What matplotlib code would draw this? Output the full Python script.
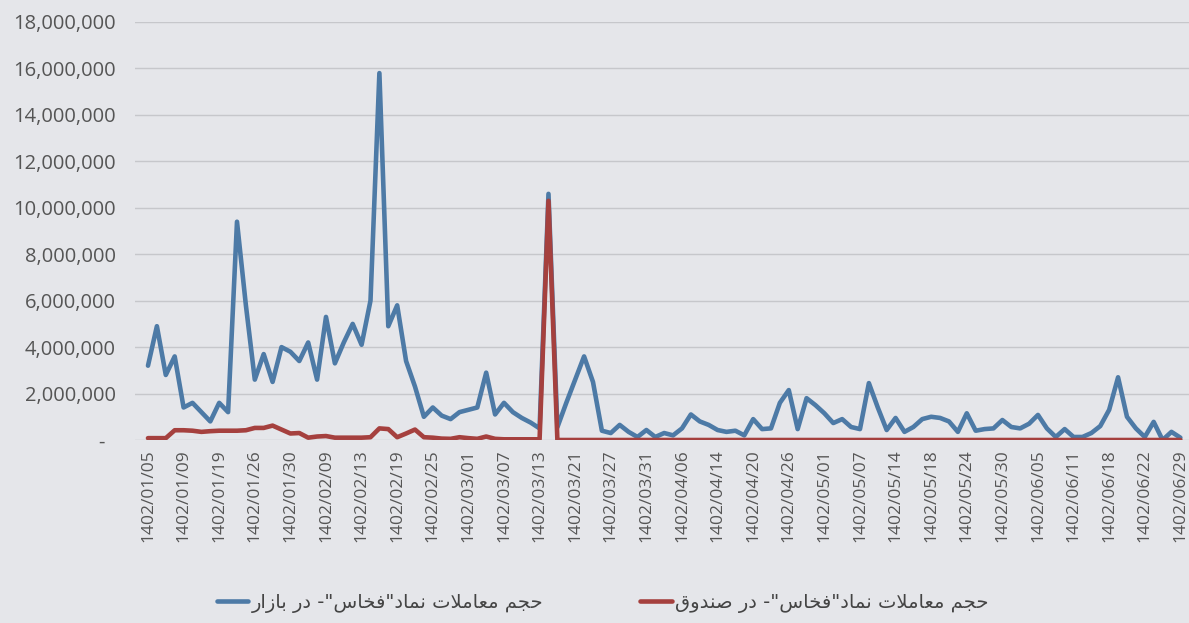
import numpy as np
import matplotlib
matplotlib.use("Agg")
import matplotlib.pyplot as plt
from matplotlib.ticker import FuncFormatter, MultipleLocator

# ---------------- data ----------------
tick_labels = [
    "1402/01/05", "1402/01/09", "1402/01/19", "1402/01/26", "1402/01/30",
    "1402/02/09", "1402/02/13", "1402/02/19", "1402/02/25", "1402/03/01",
    "1402/03/07", "1402/03/13", "1402/03/21", "1402/03/27", "1402/03/31",
    "1402/04/06", "1402/04/14", "1402/04/20", "1402/04/26", "1402/05/01",
    "1402/05/07", "1402/05/14", "1402/05/18", "1402/05/24", "1402/05/30",
    "1402/06/05", "1402/06/11", "1402/06/18", "1402/06/22", "1402/06/29",
]
label_step = 4  # one date label every 4 trading days

# volume in the market (millions of shares)
market_m = [
    3.2, 4.9, 2.8, 3.6, 1.4, 1.6, 1.2, 0.8, 1.6, 1.2,
    9.4, 5.8, 2.6, 3.7, 2.5, 4.0, 3.8, 3.4, 4.2, 2.6,
    5.3, 3.3, 4.2, 5.0, 4.1, 6.0, 15.8, 4.9, 5.8, 3.4,
    2.3, 1.0, 1.4, 1.05, 0.9, 1.2, 1.3, 1.4, 2.9, 1.1,
    1.6, 1.2, 0.95, 0.75, 0.5, 10.6, 0.55, 1.6, 2.6, 3.6,
    2.5, 0.4, 0.3, 0.65, 0.35, 0.13, 0.43, 0.13, 0.3, 0.2,
    0.5, 1.1, 0.8, 0.65, 0.43, 0.35, 0.4, 0.2, 0.9, 0.47,
    0.5, 1.6, 2.15, 0.47, 1.8, 1.5, 1.15, 0.73, 0.9, 0.56,
    0.47, 2.45, 1.4, 0.43, 0.95, 0.35, 0.56, 0.9, 1.0, 0.95,
    0.8, 0.35, 1.15, 0.4, 0.47, 0.5, 0.86, 0.56, 0.5, 0.7,
    1.08, 0.5, 0.13, 0.47, 0.13, 0.13, 0.3, 0.6, 1.3, 2.7,
    1.0, 0.5, 0.13, 0.78, 0.0, 0.35, 0.1,
]

# volume in the fund (millions of shares)
fund_m = [
    0.08, 0.08, 0.08, 0.42, 0.42, 0.4, 0.35, 0.38, 0.4, 0.4,
    0.4, 0.42, 0.52, 0.52, 0.62, 0.45, 0.28, 0.3, 0.1, 0.15,
    0.17, 0.1, 0.1, 0.1, 0.1, 0.12, 0.5, 0.47, 0.12, 0.28,
    0.45, 0.12, 0.1, 0.06, 0.05, 0.12, 0.08, 0.05, 0.15, 0.05,
    0.03, 0.03, 0.03, 0.03, 0.03, 10.3, 0.0, 0.0, 0.0, 0.0,
    0.0, 0.0, 0.0, 0.0, 0.0, 0.0, 0.0, 0.0, 0.0, 0.0,
    0.0, 0.0, 0.0, 0.0, 0.0, 0.0, 0.0, 0.0, 0.0, 0.0,
    0.0, 0.0, 0.0, 0.0, 0.0, 0.0, 0.0, 0.0, 0.0, 0.0,
    0.0, 0.0, 0.0, 0.0, 0.0, 0.0, 0.0, 0.0, 0.0, 0.0,
    0.0, 0.0, 0.0, 0.0, 0.0, 0.0, 0.0, 0.0, 0.0, 0.0,
    0.0, 0.0, 0.0, 0.0, 0.0, 0.0, 0.0, 0.0, 0.0, 0.0,
    0.0, 0.0, 0.0, 0.0, 0.0, 0.0, 0.0,
]

series_names = [
    'حجم معاملات نماد"فخاس"- در بازار',
    'حجم معاملات نماد"فخاس"- در صندوق',
]


# ------------- minimal Arabic/Persian shaping (matplotlib has no bidi) -------------
FORMS = {  # isolated, final, initial, medial
    'ا': (0xFE8D, 0xFE8E, None, None),
    'ب': (0xFE8F, 0xFE90, 0xFE91, 0xFE92),
    'ت': (0xFE95, 0xFE96, 0xFE97, 0xFE98),
    'ج': (0xFE9D, 0xFE9E, 0xFE9F, 0xFEA0),
    'ح': (0xFEA1, 0xFEA2, 0xFEA3, 0xFEA4),
    'خ': (0xFEA5, 0xFEA6, 0xFEA7, 0xFEA8),
    'د': (0xFEA9, 0xFEAA, None, None),
    'ر': (0xFEAD, 0xFEAE, None, None),
    'ز': (0xFEAF, 0xFEB0, None, None),
    'س': (0xFEB1, 0xFEB2, 0xFEB3, 0xFEB4),
    'ص': (0xFEB9, 0xFEBA, 0xFEBB, 0xFEBC),
    'ع': (0xFEC9, 0xFECA, 0xFECB, 0xFECC),
    'ف': (0xFED1, 0xFED2, 0xFED3, 0xFED4),
    'ق': (0xFED5, 0xFED6, 0xFED7, 0xFED8),
    'ل': (0xFEDD, 0xFEDE, 0xFEDF, 0xFEE0),
    'م': (0xFEE1, 0xFEE2, 0xFEE3, 0xFEE4),
    'ن': (0xFEE5, 0xFEE6, 0xFEE7, 0xFEE8),
    'و': (0xFEED, 0xFEEE, None, None),
}


def shape_rtl(text):
    out = []
    n = len(text)
    i = 0
    while i < n:
        c = text[i]
        if c not in FORMS:
            out.append(c)
            i += 1
            continue
        prev = text[i - 1] if i > 0 else ''
        prev_joins = prev in FORMS and FORMS[prev][2] is not None
        if c == 'ل' and i + 1 < n and text[i + 1] == 'ا':
            out.append(chr(0xFEFC if prev_joins else 0xFEFB))
            i += 2
            continue
        nxt = text[i + 1] if i + 1 < n else ''
        next_joins = nxt in FORMS and FORMS[c][2] is not None
        iso, fin, ini, med = FORMS[c]
        if prev_joins and next_joins:
            out.append(chr(med))
        elif prev_joins:
            out.append(chr(fin))
        elif next_joins:
            out.append(chr(ini))
        else:
            out.append(chr(iso))
        i += 1
    return ''.join(reversed(out))


# ---------------- plot ----------------
W, H = 1189, 623
fig = plt.figure(figsize=(W / 100, H / 100), dpi=100)
bg = '#e5e6ea'
fig.patch.set_facecolor(bg)
ax = fig.add_axes([135 / W, 1 - 440 / H, 1 - 135 / W, (440 - 22) / H])
ax.set_facecolor(bg)

x = np.arange(len(market_m))
market = np.array(market_m) * 1e6
fund = np.array(fund_m) * 1e6

blue = '#4d7aa6'
red = '#a5403e'
ax.plot(x, market, color=blue, lw=3.3, solid_joinstyle='round',
        solid_capstyle='round', label=shape_rtl(series_names[0]), zorder=3)
ax.plot(x, fund, color=red, lw=3.3, solid_joinstyle='round',
        solid_capstyle='round', label=shape_rtl(series_names[1]), zorder=4)

ax.set_xlim(-1.46, 116.97)
ax.set_ylim(0, 18e6)
ax.yaxis.set_major_locator(MultipleLocator(2e6))


def yfmt(v, pos):
    if abs(v) < 1:
        return '-  '
    return f'{int(round(v)):,}'


ax.yaxis.set_major_formatter(FuncFormatter(yfmt))
ax.grid(axis='y', color='#c6c7cb', lw=1.0)
ax.set_axisbelow(True)
for s in ax.spines.values():
    s.set_visible(False)

tick_pos = np.arange(0, len(x), label_step)[:len(tick_labels)]
ax.set_xticks(tick_pos)
ax.set_xticklabels(tick_labels, rotation=90, fontsize=12.5,
                   family=['Open Sans', 'DejaVu Sans'], color='#555555')
ax.tick_params(axis='x', length=0, pad=7)
ax.tick_params(axis='y', length=0, pad=14, labelsize=14.5, labelcolor='#555555')
for t in ax.get_yticklabels():
    t.set_family(['Open Sans', 'DejaVu Sans'])

leg = fig.legend(loc='center', bbox_to_anchor=(0.507, 20 / H), ncol=2,
                 frameon=False, handlelength=1.6,
                 handletextpad=0.2, columnspacing=5.0,
                 prop={'family': 'DejaVu Sans', 'size': 14})
for t in leg.get_texts():
    t.set_color('#444444')

fig.savefig('out.png', dpi=100, facecolor=bg)
